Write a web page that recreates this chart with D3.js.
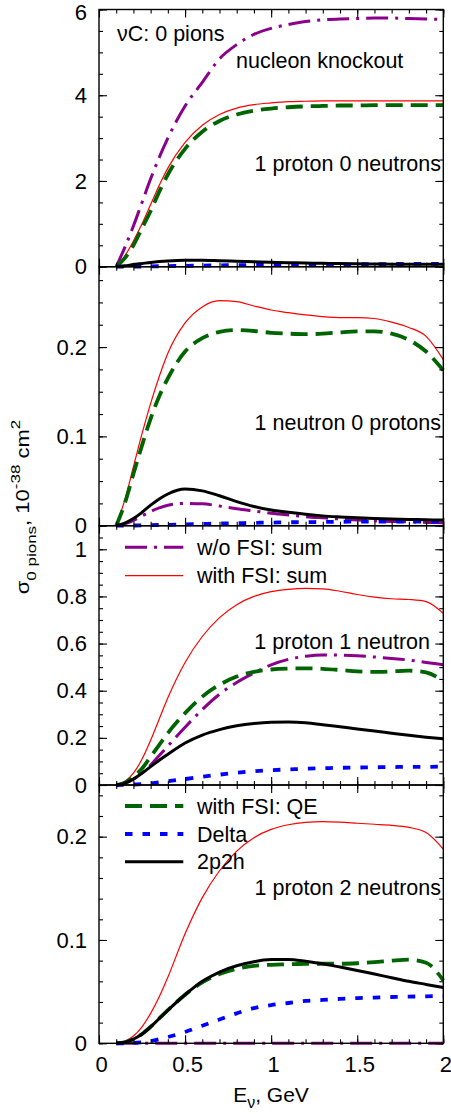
<!DOCTYPE html>
<html><head><meta charset="utf-8">
<script src="https://cdn.jsdelivr.net/npm/d3@7"></script>
<style>
body{margin:0;background:#fff}
text{font-family:"Liberation Sans",Arial,Helvetica,sans-serif;fill:#000}
</style>
</head><body>
<svg id="chart" width="451" height="1114"></svg>
<script>
// ---------------- data ----------------
const energy = [0.1,0.15,0.2,0.25,0.3,0.35,0.4,0.5,0.6,0.7,0.8,0.9,1.0,1.1,1.2,1.3,1.4,1.5,1.6,1.7,1.8,1.9,2.0];

const seriesNames = ["w/o FSI: sum","with FSI: sum","with FSI: QE","Delta","2p2h"];
const panelLabels = ["1 proton 0 neutrons","1 neutron 0 protons","1 proton 1 neutron","1 proton 2 neutrons"];
const xTickLabels = [0,0.5,1,1.5,2];

// panel 1: 1 proton 0 neutrons
const p1_woFSI = [0,0.45,0.95,1.5,2.05,2.55,3.0,3.75,4.3,4.85,5.18,5.42,5.56,5.65,5.72,5.76,5.78,5.79,5.8,5.8,5.79,5.78,5.77];
const p1_withFSI = [0,0.25,0.6,1.0,1.45,1.9,2.3,2.9,3.3,3.55,3.7,3.78,3.82,3.85,3.86,3.87,3.87,3.87,3.87,3.87,3.87,3.87,3.87];
const p1_QE = [0,0.2,0.5,0.9,1.3,1.75,2.15,2.75,3.15,3.4,3.55,3.64,3.69,3.72,3.74,3.75,3.76,3.76,3.77,3.77,3.77,3.77,3.77];
const p1_Delta = [0,0.001,0.003,0.005,0.008,0.011,0.014,0.02,0.026,0.031,0.036,0.04,0.044,0.047,0.05,0.053,0.055,0.057,0.06,0.062,0.064,0.066,0.068];
const p1_2p2h = [0,0.02,0.05,0.075,0.1,0.12,0.135,0.15,0.15,0.14,0.128,0.115,0.103,0.093,0.085,0.078,0.072,0.067,0.063,0.06,0.058,0.056,0.055];

// panel 2: 1 neutron 0 protons
const p2_woFSI = [0,0.002,0.006,0.011,0.016,0.02,0.023,0.025,0.0245,0.022,0.019,0.0165,0.014,0.012,0.0102,0.0088,0.0075,0.0064,0.0055,0.0048,0.0042,0.0037,0.0033];
const p2_withFSI = [0,0.029,0.066,0.103,0.137,0.167,0.193,0.227,0.245,0.252,0.251,0.246,0.2415,0.2385,0.236,0.234,0.233,0.233,0.232,0.228,0.222,0.212,0.186];
const p2_QE = [0,0.025,0.058,0.09,0.12,0.145,0.165,0.195,0.21,0.217,0.219,0.218,0.216,0.215,0.2145,0.215,0.2165,0.2175,0.2175,0.215,0.208,0.195,0.174];
const p2_Delta = [0,0,0.0002,0.0004,0.0006,0.0008,0.001,0.0015,0.002,0.0024,0.0028,0.0032,0.0035,0.0038,0.004,0.0042,0.0044,0.0045,0.0046,0.0046,0.0046,0.0046,0.0045];
const p2_2p2h = [0,0.003,0.008,0.015,0.023,0.03,0.0355,0.041,0.039,0.0335,0.027,0.0215,0.0175,0.015,0.0128,0.011,0.0098,0.0088,0.008,0.0074,0.007,0.0066,0.0063];

// panel 3: 1 proton 1 neutron
const p3_woFSI = [0,0.008,0.025,0.05,0.085,0.125,0.165,0.245,0.32,0.385,0.435,0.475,0.51,0.533,0.546,0.552,0.551,0.548,0.543,0.537,0.53,0.52,0.51];
const p3_withFSI = [0,0.015,0.05,0.11,0.19,0.28,0.37,0.52,0.63,0.71,0.765,0.8,0.82,0.83,0.834,0.832,0.822,0.808,0.797,0.79,0.787,0.778,0.728];
const p3_QE = [0,0.01,0.035,0.07,0.12,0.17,0.22,0.305,0.375,0.425,0.46,0.48,0.49,0.494,0.495,0.493,0.488,0.482,0.48,0.482,0.485,0.478,0.44];
const p3_Delta = [0,0.001,0.002,0.004,0.007,0.011,0.016,0.025,0.035,0.044,0.052,0.058,0.063,0.066,0.069,0.071,0.073,0.074,0.075,0.076,0.077,0.077,0.078];
const p3_2p2h = [0,0.008,0.025,0.05,0.078,0.105,0.13,0.178,0.212,0.235,0.251,0.261,0.266,0.267,0.264,0.256,0.247,0.238,0.229,0.22,0.211,0.203,0.196];

// panel 4: 1 proton 2 neutrons
const p4_woFSI = [0,0,0,0,0,0,0,0,0,0,0,0,0,0,0,0,0,0,0,0,0,0,0];
const p4_withFSI = [0,0.002,0.007,0.016,0.029,0.045,0.064,0.106,0.141,0.167,0.186,0.199,0.207,0.2115,0.2138,0.2145,0.214,0.213,0.212,0.211,0.209,0.204,0.188];
const p4_QE = [0,0.001,0.004,0.009,0.016,0.024,0.032,0.047,0.059,0.067,0.072,0.075,0.076,0.0765,0.077,0.077,0.077,0.0775,0.0785,0.08,0.081,0.078,0.061];
const p4_Delta = [0,0,0.0003,0.001,0.002,0.004,0.006,0.011,0.017,0.023,0.029,0.034,0.037,0.039,0.041,0.042,0.043,0.0438,0.0443,0.0448,0.0452,0.0455,0.0458];
const p4_2p2h = [0,0.001,0.004,0.009,0.016,0.024,0.032,0.047,0.06,0.069,0.075,0.079,0.081,0.0812,0.0795,0.077,0.0738,0.0705,0.067,0.0635,0.06,0.057,0.054];

const yMax = [6, 0.29, 1.1, 0.25];
const yMajorTicks = [[0,2,4,6],[0,0.1,0.2],[0,0.2,0.4,0.6,0.8,1],[0,0.1,0.2]];
const yMinorStep = [0.5, 0.025, 0.05, 0.02];

// ---------------- layout ----------------
const svg = d3.select("#chart");
const left = 99, right = 443.3;
const panelTops = [9.5, 266.7, 525.7, 785];
const bottom = 1043.3;
const FS = 22;

const styles = [
  {stroke:"#8b008b", width:3, dash:"22,7,3,7"},
  {stroke:"#ff0000", width:1.2, dash:null},
  {stroke:"#006400", width:3.8, dash:"17,8"},
  {stroke:"#0000ff", width:3.8, dash:"7.5,10"},
  {stroke:"#000000", width:3, dash:null}
];

const panelData = [
  [p1_woFSI,p1_withFSI,p1_QE,p1_Delta,p1_2p2h],
  [p2_woFSI,p2_withFSI,p2_QE,p2_Delta,p2_2p2h],
  [p3_woFSI,p3_withFSI,p3_QE,p3_Delta,p3_2p2h],
  [p4_woFSI,p4_withFSI,p4_QE,p4_Delta,p4_2p2h]
];

const x = d3.scaleLinear().domain([0,2]).range([left,right]);
const xMinor = d3.range(0,2.0001,0.1).map(v=>+v.toFixed(2));

function fmt(v){ return String(+v.toFixed(3)); }

panelData.forEach((series, pi) => {
  const top = panelTops[pi];
  const bot = pi < 3 ? panelTops[pi+1] : bottom;
  const y = d3.scaleLinear().domain([0,yMax[pi]]).range([bot, top]);
  const g = svg.append("g");

  const line = d3.line().x((d,i)=>x(energy[i])).y(d=>y(d)).curve(d3.curveMonotoneX);
  series.forEach((vals, si) => {
    const s = styles[si];
    g.append("path").datum(vals).attr("d", line)
      .attr("fill","none").attr("stroke", s.stroke).attr("stroke-width", s.width)
      .attr("stroke-dasharray", s.dash).attr("stroke-linejoin","round");
  });

  const yMin = d3.range(0, yMax[pi]+1e-9, yMinorStep[pi]);
  g.append("g").attr("transform",`translate(${left},0)`)
    .call(d3.axisLeft(y).tickValues(yMin).tickSize(-4).tickFormat(""))
    .call(a=>a.select(".domain").remove());
  g.append("g").attr("transform",`translate(${right},0)`)
    .call(d3.axisRight(y).tickValues(yMin).tickSize(-4).tickFormat(""))
    .call(a=>a.select(".domain").remove());
  g.append("g").attr("transform",`translate(${right},0)`)
    .call(d3.axisRight(y).tickValues(yMajorTicks[pi]).tickSize(-8).tickFormat(""))
    .call(a=>a.select(".domain").remove());
  const ya = g.append("g").attr("transform",`translate(${left},0)`)
    .call(d3.axisLeft(y).tickValues(yMajorTicks[pi]).tickSize(-8).tickPadding(12).tickFormat(fmt))
    .call(a=>a.select(".domain").remove());
  ya.selectAll("text").attr("font-size",FS).attr("font-family","Liberation Sans, Arial, sans-serif");
  // keep the topmost label of the first panel inside the picture
  if (pi === 0) ya.selectAll("text").filter(d => d === yMax[0]).attr("dy","0.32em").attr("y",2.5);

  [[bot, d3.axisBottom],[top, d3.axisTop]].forEach(([yy, ax]) => {
    g.append("g").attr("transform",`translate(0,${yy})`)
      .call(ax(x).tickValues(xMinor).tickSize(-4).tickFormat(""))
      .call(a=>a.select(".domain").remove());
    const maj = g.append("g").attr("transform",`translate(0,${yy})`)
      .call(ax(x).tickValues(xTickLabels).tickSize(-8).tickPadding(13)
        .tickFormat((pi===3 && ax===d3.axisBottom) ? fmt : ""))
      .call(a=>a.select(".domain").remove());
    maj.selectAll("text").attr("font-size",FS).attr("font-family","Liberation Sans, Arial, sans-serif").attr("dx",2);
  });

  g.selectAll(".tick line").attr("stroke","#000").attr("stroke-width",1.1);

  g.append("rect").attr("x",left).attr("y",top).attr("width",right-left).attr("height",bot-top)
    .attr("fill","none").attr("stroke","#000").attr("stroke-width",1.4);
});

// annotations
const AFS = 21.5;
const ann = svg.append("g").attr("font-size",AFS);
ann.append("text").attr("x",117).attr("y",41).text("νC: 0 pions");
ann.append("text").attr("x",236).attr("y",67.7).text("nucleon knockout");
ann.append("text").attr("x",441).attr("y",171).attr("text-anchor","end").text(panelLabels[0]);
ann.append("text").attr("x",441).attr("y",430).attr("text-anchor","end").text(panelLabels[1]);
ann.append("text").attr("x",430).attr("y",649.3).attr("text-anchor","end").text(panelLabels[2]);
ann.append("text").attr("x",441).attr("y",895).attr("text-anchor","end").text(panelLabels[3]);

// legends
const legendRows = [
  {i:0, y:547.3},{i:1, y:575.7},
  {i:2, y:806},{i:3, y:834},{i:4, y:861.7}
];
const lg = svg.append("g");
legendRows.forEach(r => {
  const s = styles[r.i];
  lg.append("line").attr("x1",125).attr("x2",183.3).attr("y1",r.y).attr("y2",r.y)
    .attr("stroke",s.stroke).attr("stroke-width",s.width).attr("stroke-dasharray",s.dash);
  lg.append("text").attr("x",197).attr("y",r.y+7.5).attr("font-size",AFS).text(seriesNames[r.i]);
});

// axis titles
const xt = svg.append("text").attr("x",271).attr("y",1101.7).attr("text-anchor","middle").attr("font-size",21);
xt.append("tspan").text("E");
xt.append("tspan").attr("font-size",16).attr("dy",6).text("ν");
xt.append("tspan").attr("dy",-6).text(", GeV");

const yt = svg.append("text").attr("transform","translate(28.5,507) rotate(-90) scale(1,0.8)")
  .attr("text-anchor","middle").attr("font-size",22);
yt.append("tspan").text("σ");
yt.append("tspan").attr("font-size",17).attr("dy",9).text("0 pions");
yt.append("tspan").attr("dy",-9).text(", 10");
yt.append("tspan").attr("font-size",17).attr("dy",-11).text("-38");
yt.append("tspan").attr("dy",11).text(" cm");
yt.append("tspan").attr("font-size",17).attr("dy",-11).text("2");
</script>
</body></html>
